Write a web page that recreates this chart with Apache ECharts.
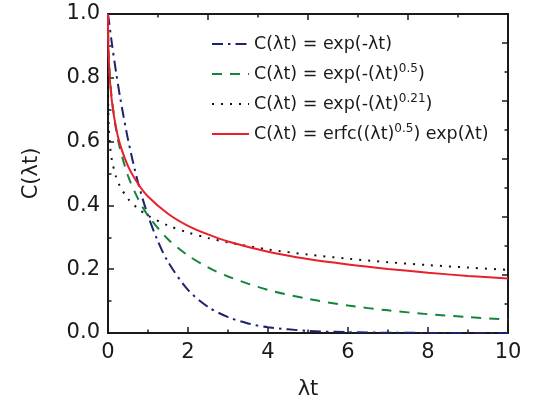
<!DOCTYPE html>
<html>
<head>
<meta charset="utf-8">
<script src="https://cdn.jsdelivr.net/npm/echarts@6/dist/echarts.min.js"></script>
<style>
html,body{margin:0;padding:0;background:#fff;}
#chart{width:533px;height:408px;}
</style>
</head>
<body>
<div id="chart"></div>
<script>
// Data
const xTicks = [0, 2, 4, 6, 8, 10];
const yTicks = [0.0, 0.2, 0.4, 0.6, 0.8, 1.0];

const seriesNames = [
  'C(λt) = exp(-λt)',
  'C(λt) = exp(-(λt)^0.5)',
  'C(λt) = exp(-(λt)^0.21)',
  'C(λt) = erfc((λt)^0.5) exp(λt)'
];
const legendLabels = [
  '{t|C(λt) = exp(-λt)}',
  '{t|C(λt) = exp(-(λt)}{s|0.5}{t|)}',
  '{t|C(λt) = exp(-(λt)}{s|0.21}{t|)}',
  '{t|C(λt) = erfc((λt)}{s|0.5}{t|) exp(λt)}'
];

const xExp = [0, 0.1, 0.2, 0.3, 0.5, 0.75, 1, 1.25, 1.5, 2, 2.5, 3, 3.5, 4, 5, 6, 7, 8, 9, 10];
const yExp = [1, 0.905, 0.819, 0.741, 0.607, 0.472, 0.368, 0.287, 0.223, 0.135, 0.082, 0.050, 0.030, 0.018, 0.0067, 0.0025, 0.0009, 0.0003, 0.0001, 0.00005];

const xStr = [0, 0.002, 0.005, 0.02, 0.05, 0.1, 0.2, 0.3, 0.5, 0.75, 1, 1.5, 2, 2.5, 3, 4, 5, 6, 7, 8, 9, 10];
const yStr = [1, 0.956, 0.932, 0.868, 0.800, 0.729, 0.639, 0.578, 0.493, 0.421, 0.368, 0.294, 0.243, 0.206, 0.177, 0.135, 0.107, 0.086, 0.071, 0.059, 0.050, 0.042];

const xKww = [0, 0.00001, 0.0001, 0.0005, 0.002, 0.005, 0.01, 0.02, 0.05, 0.1, 0.2, 0.3, 0.5, 0.75, 1, 1.5, 2, 2.5, 3, 4, 5, 6, 7, 8, 9, 10];
const yKww = [1, 0.915, 0.866, 0.817, 0.763, 0.720, 0.684, 0.644, 0.587, 0.540, 0.490, 0.460, 0.421, 0.390, 0.368, 0.337, 0.315, 0.298, 0.284, 0.262, 0.246, 0.233, 0.222, 0.213, 0.205, 0.198];

const xErf = [0, 0.002, 0.005, 0.01, 0.02, 0.05, 0.1, 0.2, 0.3, 0.5, 0.75, 1, 1.5, 2, 2.5, 3, 4, 5, 6, 7, 8, 9, 10];
const yErf = [1, 0.952, 0.925, 0.897, 0.859, 0.790, 0.724, 0.644, 0.592, 0.523, 0.468, 0.428, 0.374, 0.336, 0.309, 0.287, 0.255, 0.232, 0.215, 0.201, 0.189, 0.179, 0.171];

function zip(xs, ys) { return xs.map((x, i) => [x, ys[i]]); }

const FONT = 'DejaVu Sans';
const AX = '#1a1a1a';
const chart = echarts.init(document.getElementById('chart'), null, {renderer: 'canvas'});

const tickCommon = {
  axisLine: {show: true, onZero: false, lineStyle: {color: AX, width: 2}},
  axisTick: {show: true, inside: true, length: 6, lineStyle: {color: AX, width: 1.5}},
  minorTick: {show: true, splitNumber: 2, length: 3.5, lineStyle: {color: AX, width: 1.5}},
  splitLine: {show: false},
  minorSplitLine: {show: false}
};

chart.setOption({
  animation: false,
  backgroundColor: '#fff',
  grid: {left: 108, right: 25, top: 14, bottom: 75},
  legend: {
    orient: 'vertical',
    left: 206,
    top: 30,
    padding: 5,
    itemWidth: 37,
    itemHeight: 12,
    itemGap: 10,
    data: seriesNames,
    formatter: function (name) { return legendLabels[seriesNames.indexOf(name)]; },
    itemStyle: {color: 'rgba(0,0,0,0)', borderColor: 'rgba(0,0,0,0)', borderWidth: 0},
    textStyle: {
      fontFamily: FONT,
      color: '#1a1a1a',
      rich: {
        t: {fontFamily: FONT, fontSize: 17.5, color: '#1a1a1a', lineHeight: 22},
        s: {fontFamily: FONT, fontSize: 12, color: '#1a1a1a', lineHeight: 12, verticalAlign: 'top'}
      }
    }
  },
  xAxis: [
    Object.assign({
      type: 'value', position: 'bottom', min: 0, max: 10, interval: 2,
      name: 'λt', nameLocation: 'middle', nameGap: 46,
      nameTextStyle: {fontFamily: FONT, fontSize: 21, color: '#1a1a1a'},
      axisLabel: {fontFamily: FONT, fontSize: 21, color: '#1a1a1a', margin: 9,
        formatter: v => xTicks.includes(v) ? String(v) : ''}
    }, tickCommon),
    Object.assign({
      type: 'value', position: 'top', min: 0, max: 10, interval: 2.5,
      axisLabel: {show: false}
    }, tickCommon)
  ],
  yAxis: [
    Object.assign({
      type: 'value', position: 'left', min: 0, max: 1, interval: 0.2,
      name: 'C(λt)', nameLocation: 'middle', nameGap: 66, nameRotate: 90,
      nameTextStyle: {fontFamily: FONT, fontSize: 21, color: '#1a1a1a'},
      axisLabel: {fontFamily: FONT, fontSize: 21, color: '#1a1a1a', margin: 8,
        formatter: v => yTicks.some(t => Math.abs(t - v) < 1e-9) ? v.toFixed(1) : ''}
    }, tickCommon),
    Object.assign({
      type: 'value', position: 'right', min: 0, max: 11, interval: 2,
      axisLabel: {show: false}
    }, tickCommon)
  ],
  series: [
    {
      name: seriesNames[0], type: 'line', xAxisIndex: 0, yAxisIndex: 0,
      data: zip(xExp, yExp), showSymbol: false, symbol: 'none',
      smooth: 0.3,
      lineStyle: {color: '#1c2270', width: 2, type: [11, 5, 2.5, 5]},
      itemStyle: {color: '#1c2270'}, z: 2
    },
    {
      name: seriesNames[1], type: 'line', xAxisIndex: 0, yAxisIndex: 0,
      data: zip(xStr, yStr), showSymbol: false, symbol: 'none',
      smooth: 0.3,
      lineStyle: {color: '#12853d', width: 2, type: [10, 8]},
      itemStyle: {color: '#12853d'}, z: 3
    },
    {
      name: seriesNames[2], type: 'line', xAxisIndex: 0, yAxisIndex: 0,
      data: zip(xKww, yKww), showSymbol: false, symbol: 'none',
      smooth: 0.3,
      lineStyle: {color: '#111111', width: 2, type: [2, 7]},
      itemStyle: {color: '#111111'}, z: 4
    },
    {
      name: seriesNames[3], type: 'line', xAxisIndex: 0, yAxisIndex: 0,
      data: zip(xErf, yErf), showSymbol: false, symbol: 'none',
      smooth: 0.3,
      lineStyle: {color: '#e8202a', width: 2, type: 'solid'},
      itemStyle: {color: '#e8202a'}, z: 5
    }
  ]
});
</script>
</body>
</html>
